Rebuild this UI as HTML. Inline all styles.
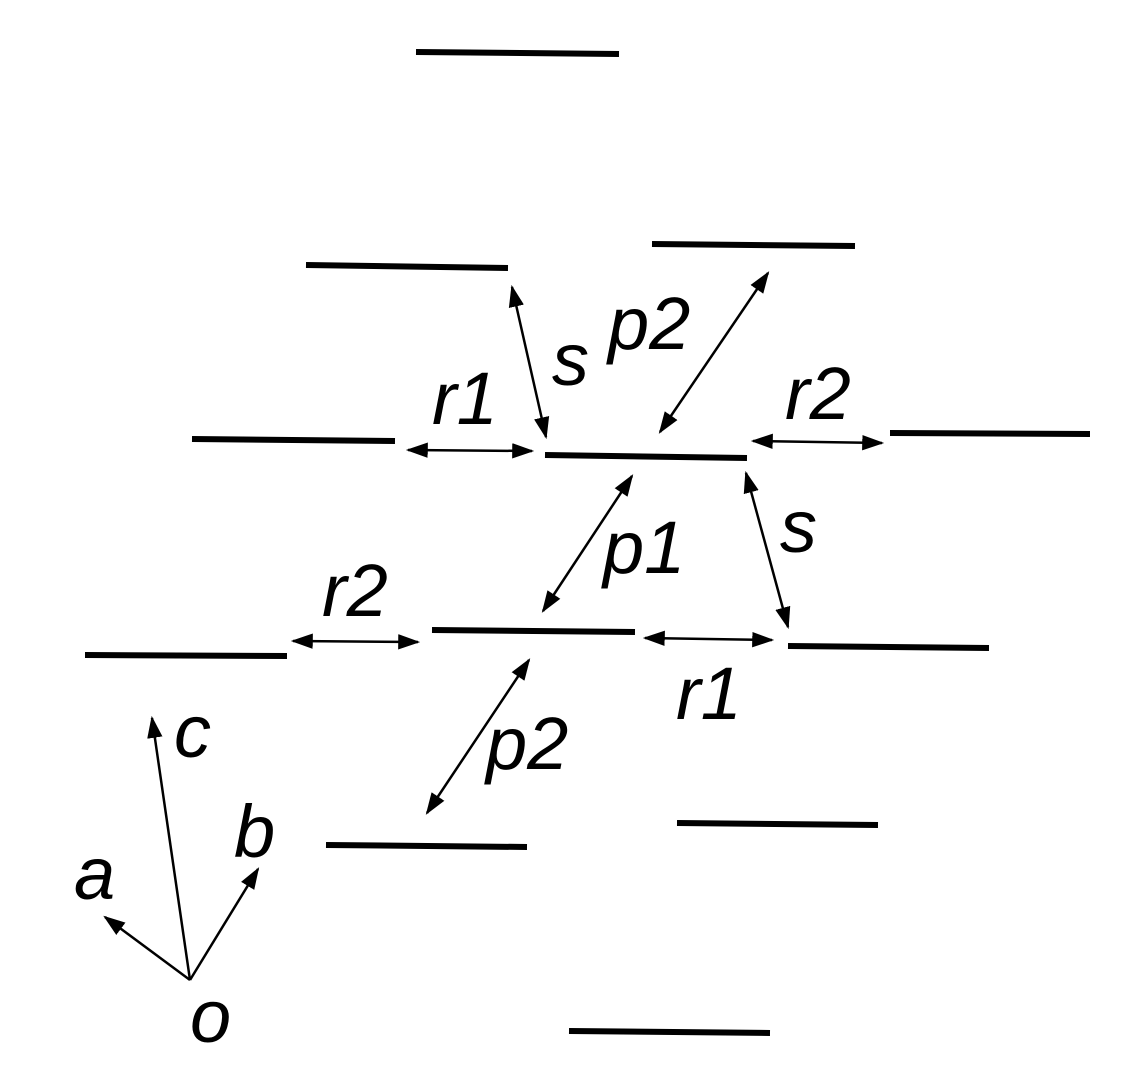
<!DOCTYPE html>
<html><head><meta charset="utf-8"><style>html,body{margin:0;padding:0;background:#fff}svg{display:block}</style></head>
<body>
<svg width="1122" height="1073" viewBox="0 0 1122 1073" xmlns="http://www.w3.org/2000/svg">
<defs>
<marker id="H" viewBox="0 0 10 10" refX="9" refY="5" markerWidth="22" markerHeight="22" markerUnits="userSpaceOnUse" orient="auto-start-reverse" preserveAspectRatio="none">
<path d="M0,1.5 L10,5 L0,8.5 z" fill="#000"/></marker>
</defs>
<g stroke="#000" stroke-width="6">
<line x1="416" y1="52" x2="619" y2="54"/>
<line x1="306" y1="265" x2="508" y2="268"/>
<line x1="652" y1="244" x2="855" y2="246"/>
<line x1="192" y1="439" x2="395" y2="441"/>
<line x1="545" y1="455" x2="747" y2="458"/>
<line x1="890" y1="433" x2="1090" y2="434"/>
<line x1="85" y1="655" x2="287" y2="656"/>
<line x1="432" y1="630" x2="635" y2="632"/>
<line x1="788" y1="646" x2="989" y2="648"/>
<line x1="677" y1="823" x2="878" y2="825"/>
<line x1="326" y1="845" x2="527" y2="847"/>
<line x1="569" y1="1031" x2="770" y2="1033"/>
</g>
<g stroke="#000" stroke-width="2.5" marker-start="url(#H)" marker-end="url(#H)">
<line x1="512" y1="287" x2="546" y2="437"/>
<line x1="768" y1="273" x2="660" y2="432"/>
<line x1="408" y1="450" x2="532" y2="451"/>
<line x1="753" y1="441" x2="882" y2="443"/>
<line x1="632" y1="476" x2="543" y2="611"/>
<line x1="746" y1="473" x2="788" y2="627"/>
<line x1="293" y1="641" x2="418" y2="642"/>
<line x1="645" y1="638" x2="772" y2="640"/>
<line x1="529" y1="660" x2="427" y2="813"/>
</g>
<g stroke="#000" stroke-width="2.5" marker-end="url(#H)">
<line x1="190" y1="980" x2="152" y2="718"/>
<line x1="190" y1="980" x2="105" y2="917"/>
<line x1="190" y1="980" x2="258" y2="869"/>
</g>
<g font-family="Liberation Sans, sans-serif" font-style="italic" font-size="74" fill="#000">
<text x="552" y="385">s</text>
<text x="608" y="349">p2</text>
<text x="432" y="424">r1</text>
<text x="785" y="419">r2</text>
<text x="603" y="573">p1</text>
<text x="780" y="552">s</text>
<text x="322" y="616">r2</text>
<text x="676" y="719">r1</text>
<text x="486" y="769">p2</text>
<text x="174" y="757">c</text>
<text x="234" y="857">b</text>
<text x="74" y="899">a</text>
<text x="190" y="1042">o</text>
</g>
</svg>
</body></html>
